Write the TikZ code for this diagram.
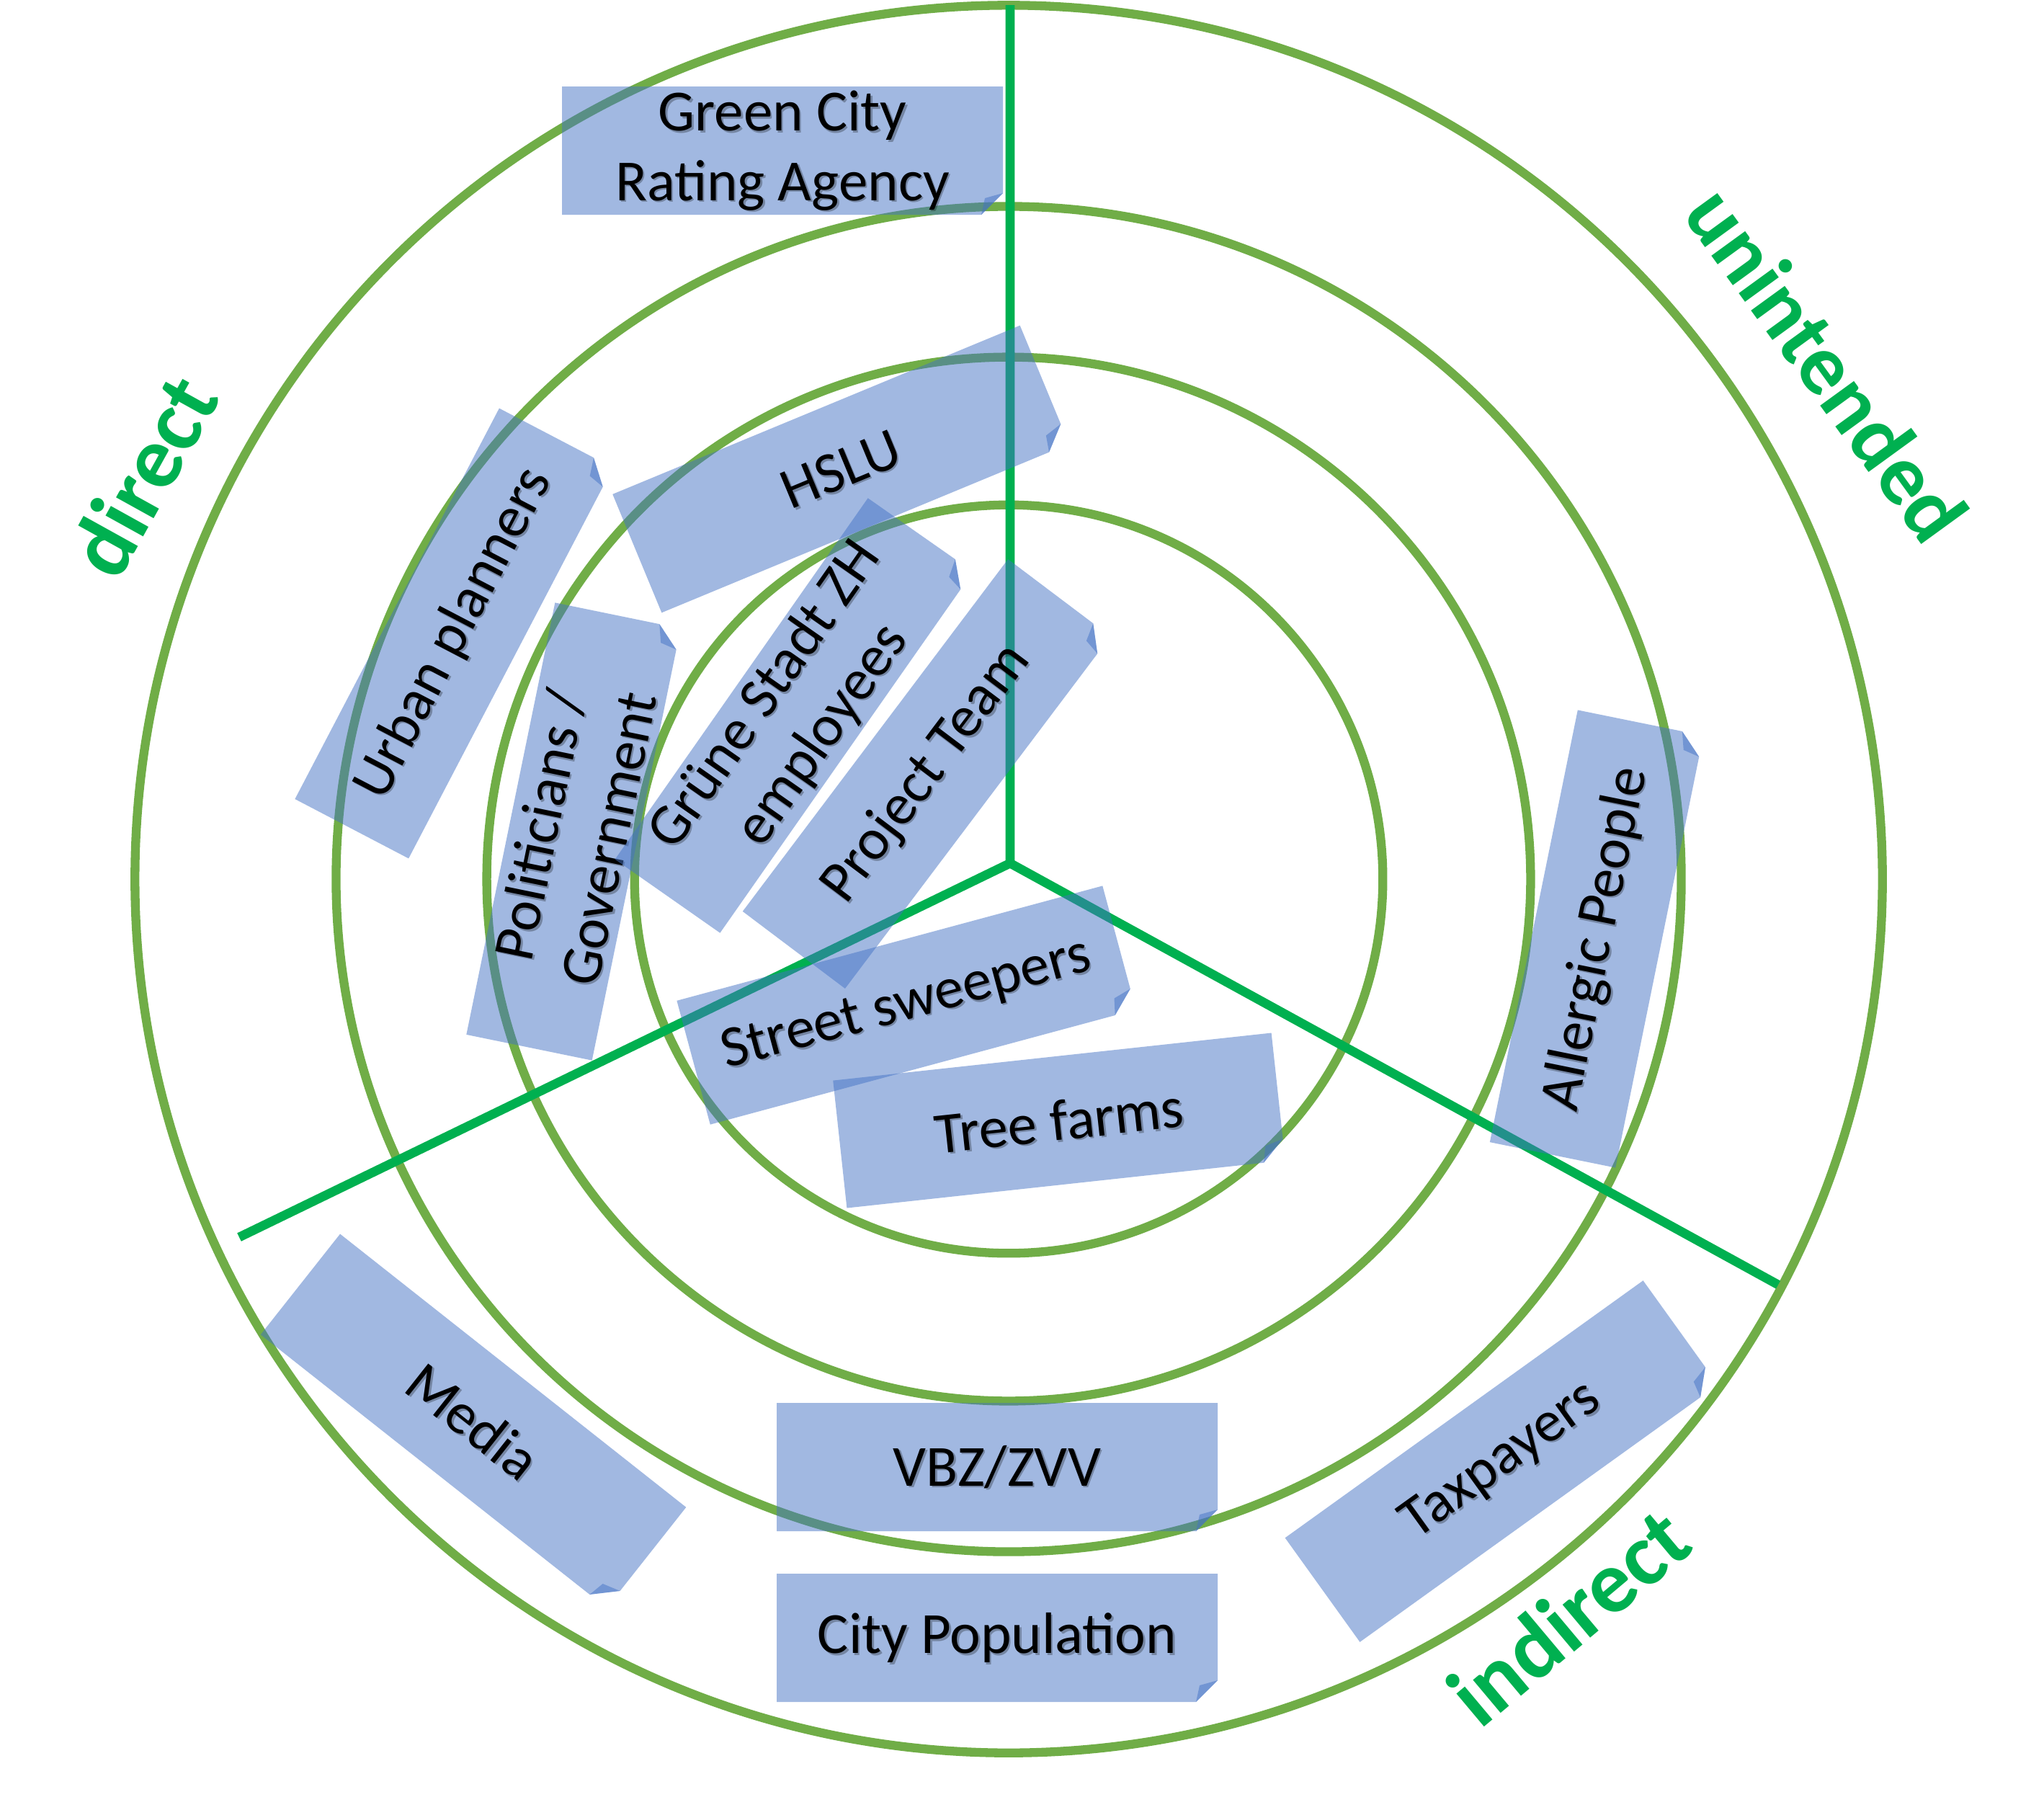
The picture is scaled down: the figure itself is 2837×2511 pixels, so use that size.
\documentclass[tikz,border=0pt]{standalone}
\usepackage{fontspec}
\setmainfont{Carlito}
\definecolor{ringgreen}{HTML}{70AD47}
\definecolor{axisgreen}{HTML}{00B050}
\definecolor{boxblue}{HTML}{4472C4}
\tikzset{
  ring/.style={draw=ringgreen, line width=3.5pt},
  axisline/.style={draw=axisgreen, line width=3.6pt},
  boxfill/.style={fill=boxblue, fill opacity=0.5},
  boxtxt/.style={font=\fontsize{23}{27.5}\selectfont, align=center, inner sep=0pt, text=black},
  boxshadow/.style={boxtxt, text opacity=0.28},
  cat/.style={font=\fontsize{35}{40}\selectfont\bfseries, text=axisgreen, inner sep=0pt}
}
% name, x, y, angle, text
\newcommand{\notebox}[5]{%
  \begin{scope}[shift={(#2,#3)},rotate=#4]
    \fill[boxfill] (-306,-89) -- (306,-89) -- (306,59) -- (276,89) -- (-306,89) -- cycle;
    \fill[boxfill] (306,59) -- (276,89) -- (281,66) -- cycle;
  \end{scope}
  \node[boxshadow, rotate=#4] (#1s) at ([shift={(2.5,2.5)}]#2,#3) {#5};
  \node[boxtxt, rotate=#4] (#1) at (#2,#3) {#5};
}
\begin{document}
\begin{tikzpicture}[x=0.01cm, y=-0.01cm]
\useasboundingbox (0,0) rectangle (2837,2511);
\coordinate (cc) at (1400,1220);
% rings
\draw[ring] (cc) circle[radius=12.12cm];
\draw[ring] (cc) circle[radius=9.33cm];
\draw[ring] (cc) circle[radius=7.24cm];
\draw[ring] (cc) circle[radius=5.19cm];
% sector lines
\coordinate (hub) at (1402,1198);
\coordinate (top) at (1402,7);
\coordinate (ll) at (332,1717);
\coordinate (lr) at (2468,1783);
\draw[axisline] (top) -- (hub) -- (ll);
\draw[axisline] (hub) -- (lr);
% stakeholder boxes
\notebox{gca}{1086}{209}{0}{Green City\\Rating Agency}
\notebox{hslu}{1167}{651}{22.5}{HSLU}
\notebox{urban}{630}{879}{62.4}{Urban planners}
\notebox{pol}{796}{1154}{78.4}{Politicians /\\Government}
\notebox{gsz}{1102}{993}{55}{Grüne Stadt ZH\\employees}
\notebox{pt}{1286}{1074}{53}{Project Team}
\notebox{ss}{1258}{1395}{15.1}{Street sweepers}
\notebox{tf}{1470}{1555}{6.2}{Tree farms}
\notebox{ap}{2216}{1303}{78.5}{Allergic People}
\notebox{media}{657}{1972}{-38.3}{Media}
\notebox{vbz}{1384}{2036}{0}{VBZ/ZVV}
\notebox{cp}{1384}{2273}{0}{City Population}
\notebox{tax}{2084}{2028}{35.7}{Taxpayers}
% category labels
\node[cat, rotate=61] (lbldirect) at (198,660) {direct};
\node[cat, rotate=-54, font=\fontsize{34}{40}\selectfont\bfseries] (lblunint) at (2536,505) {unintended};
\node[cat, rotate=40] (lblindirect) at (2177,2243) {indirect};
\end{tikzpicture}
\end{document}
